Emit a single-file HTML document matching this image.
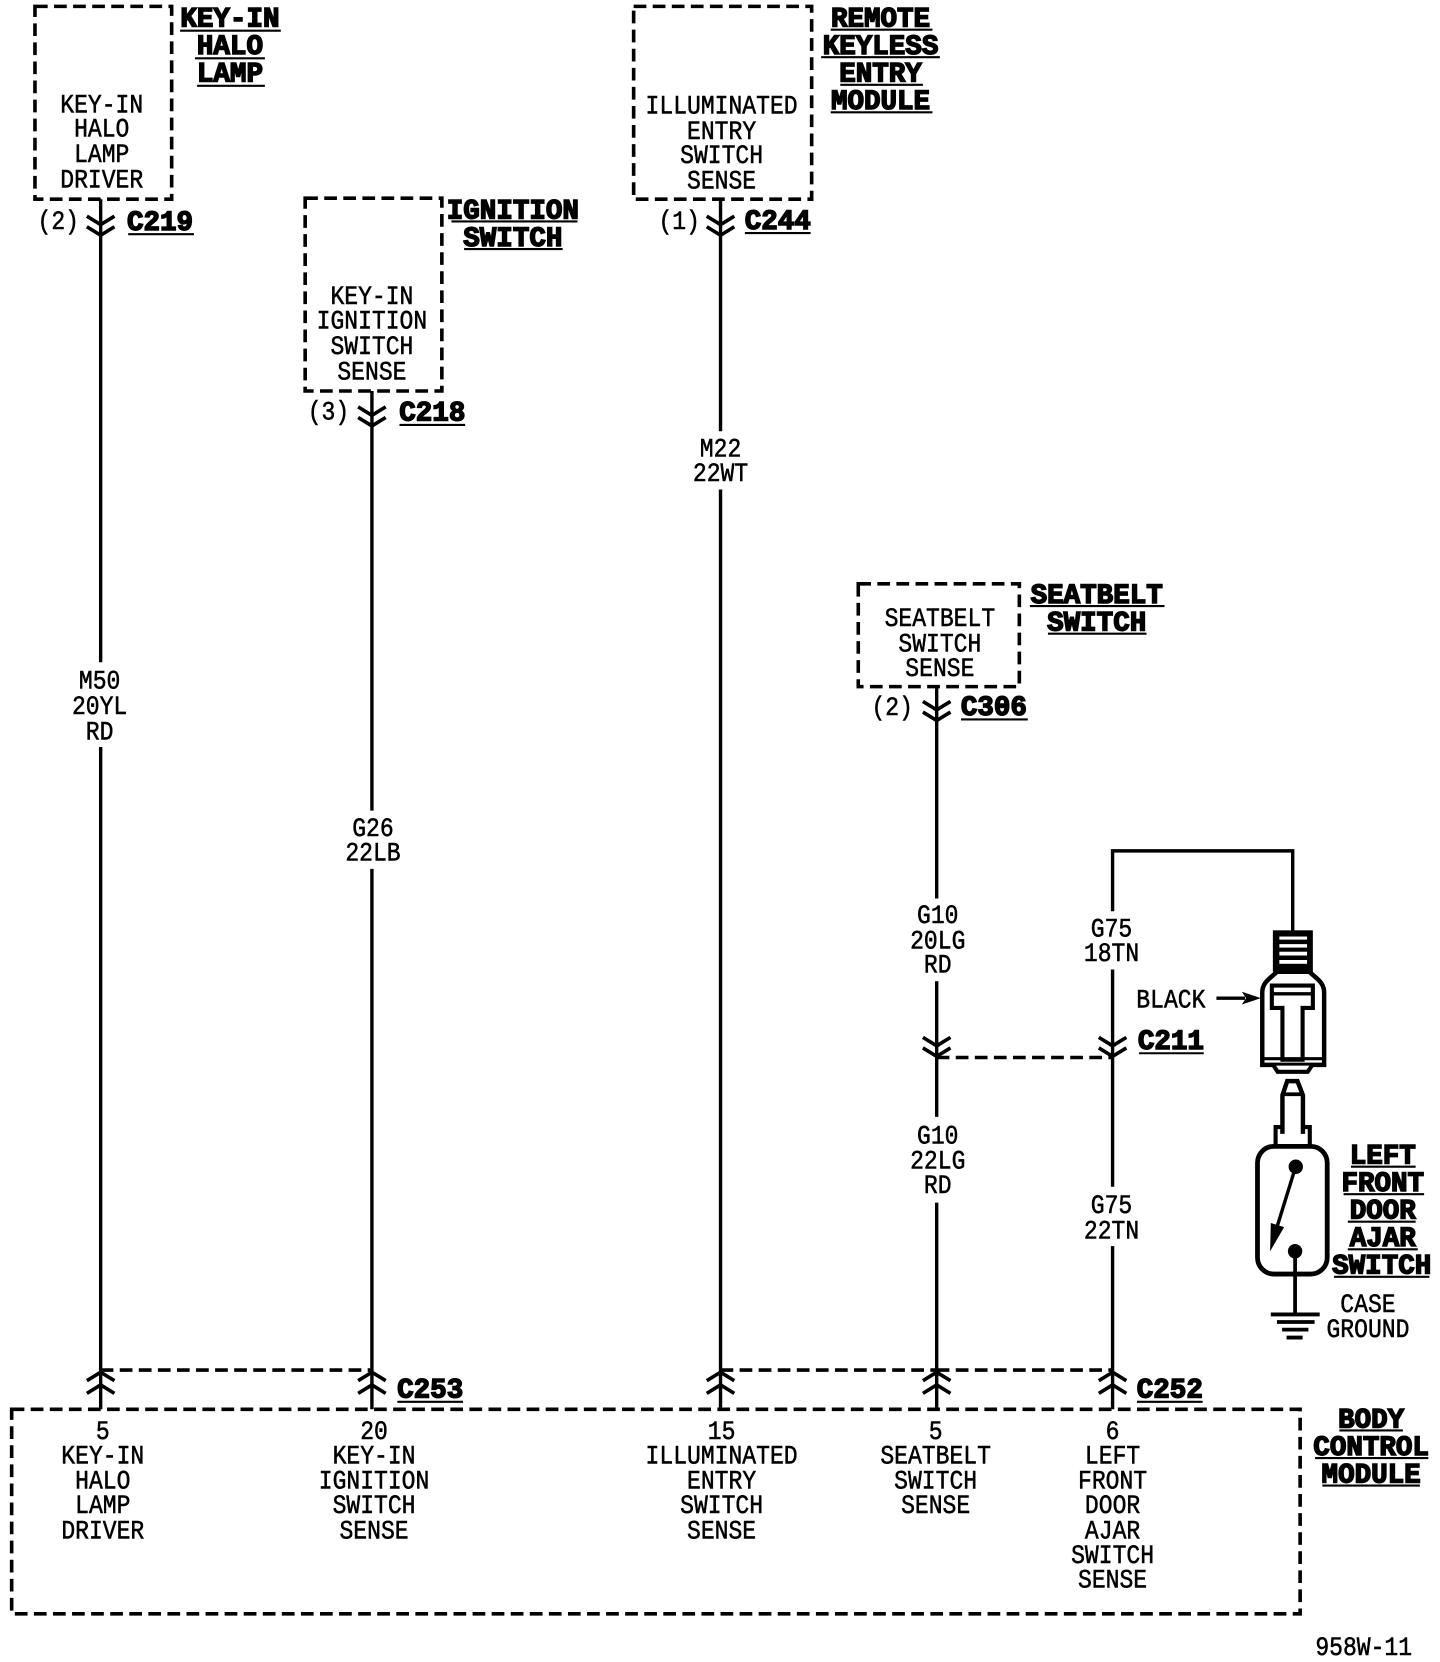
<!DOCTYPE html>
<html><head><meta charset="utf-8"><style>
html,body{margin:0;padding:0;background:#fff}
svg{display:block}
text{font-family:"Liberation Mono",monospace;fill:#000;text-anchor:middle}
.t{font-size:25px;stroke:#000;stroke-width:.5;transform-box:fill-box;transform-origin:center;transform:scaleX(.87)}
.b{font-size:26px;font-weight:bold;stroke:#000;stroke-width:1.4}
.w{fill:none;stroke:#000;stroke-width:3.2}
.d{fill:none;stroke:#000;stroke-width:3.4;stroke-dasharray:12 6}
.u{stroke:#000;stroke-width:2}
.c{fill:none;stroke:#000;stroke-width:3.4}
</style></head><body>
<svg width="1440" height="1662" viewBox="0 0 1359 1568.5" xmlns="http://www.w3.org/2000/svg">
<!-- boxes -->
<rect class="d" x="33" y="6" width="129" height="182"/>
<rect class="d" x="288" y="187" width="129" height="182"/>
<rect class="d" x="598" y="6" width="168" height="182"/>
<rect class="d" x="810" y="551" width="152" height="97"/>
<rect class="d" x="11" y="1330" width="1216" height="193"/>
<!-- wires -->
<path class="w" d="M95 188V625M95 705V1330M351 369V765M351 820V1330M680 188V407M680 462V1330M884 648V848M884 926V1054M884 1135V1330M1050 860V803H1220V880M1050 915V1120M1050 1176V1330"/>
<!-- dashed links -->
<path class="d" d="M95 1293H351M680 1293H884M884 1293H1050M884 998H1050"/>
<!-- top chevrons -->
<path class="c" d="M82 204L95 212L108 204M82 214L95 222L108 214"/>
<path class="c" d="M338 384L351 392L364 384M338 394L351 402L364 394"/>
<path class="c" d="M667 204L680 212L693 204M667 214L680 222L693 214"/>
<path class="c" d="M871 662L884 670L897 662M871 672L884 680L897 672"/>
<path class="c" d="M871 979L884 987L897 979M871 989L884 997L897 989"/>
<path class="c" d="M1037 979L1050 987L1063 979M1037 989L1050 997L1063 989"/>
<!-- bottom chevrons -->
<path class="c" d="M82 1303L95 1295L108 1303M82 1315L95 1307L108 1315"/>
<path class="c" d="M338 1303L351 1295L364 1303M338 1315L351 1307L364 1315"/>
<path class="c" d="M667 1303L680 1295L693 1303M667 1315L680 1307L693 1315"/>
<path class="c" d="M871 1303L884 1295L897 1303M871 1315L884 1307L897 1315"/>
<path class="c" d="M1037 1303L1050 1295L1063 1303M1037 1315L1050 1307L1063 1315"/>
<!-- box text -->
<text class="t" x="96" y="106">KEY-IN</text><text class="t" x="96" y="129">HALO</text><text class="t" x="96" y="153">LAMP</text><text class="t" x="96" y="177">DRIVER</text>
<text class="t" x="351" y="287">KEY-IN</text><text class="t" x="351" y="310">IGNITION</text><text class="t" x="351" y="334">SWITCH</text><text class="t" x="351" y="358">SENSE</text>
<text class="t" x="681" y="107">ILLUMINATED</text><text class="t" x="681" y="131">ENTRY</text><text class="t" x="681" y="154">SWITCH</text><text class="t" x="681" y="178">SENSE</text>
<text class="t" x="887" y="591">SEATBELT</text><text class="t" x="887" y="615">SWITCH</text><text class="t" x="887" y="638">SENSE</text>
<text class="t" x="55" y="216">(2)</text><text class="t" x="310" y="396">(3)</text><text class="t" x="641" y="216">(1)</text><text class="t" x="842" y="675">(2)</text>
<text class="t" x="94" y="650">M50</text><text class="t" x="94" y="674">20YL</text><text class="t" x="94" y="698">RD</text>
<text class="t" x="352" y="789">G26</text><text class="t" x="352" y="812">22LB</text>
<text class="t" x="680" y="431">M22</text><text class="t" x="680" y="454">22WT</text>
<text class="t" x="885" y="871">G10</text><text class="t" x="885" y="895">20LG</text><text class="t" x="885" y="918">RD</text>
<text class="t" x="885" y="1079">G10</text><text class="t" x="885" y="1103">22LG</text><text class="t" x="885" y="1126">RD</text>
<text class="t" x="1049" y="884">G75</text><text class="t" x="1049" y="907">18TN</text>
<text class="t" x="1049" y="1145">G75</text><text class="t" x="1049" y="1169">22TN</text>
<text class="t" x="1105" y="951">BLACK</text>
<text class="t" x="1291" y="1238">CASE</text><text class="t" x="1291" y="1262">GROUND</text>
<text class="t" x="97" y="1358">5</text><text class="t" x="97" y="1381">KEY-IN</text><text class="t" x="97" y="1405">HALO</text><text class="t" x="97" y="1428">LAMP</text><text class="t" x="97" y="1452">DRIVER</text>
<text class="t" x="353" y="1358">20</text><text class="t" x="353" y="1381">KEY-IN</text><text class="t" x="353" y="1405">IGNITION</text><text class="t" x="353" y="1428">SWITCH</text><text class="t" x="353" y="1452">SENSE</text>
<text class="t" x="681" y="1358">15</text><text class="t" x="681" y="1381">ILLUMINATED</text><text class="t" x="681" y="1405">ENTRY</text><text class="t" x="681" y="1428">SWITCH</text><text class="t" x="681" y="1452">SENSE</text>
<text class="t" x="883" y="1358">5</text><text class="t" x="883" y="1381">SEATBELT</text><text class="t" x="883" y="1405">SWITCH</text><text class="t" x="883" y="1428">SENSE</text>
<text class="t" x="1050" y="1358">6</text><text class="t" x="1050" y="1381">LEFT</text><text class="t" x="1050" y="1405">FRONT</text><text class="t" x="1050" y="1428">DOOR</text><text class="t" x="1050" y="1452">AJAR</text><text class="t" x="1050" y="1475">SWITCH</text><text class="t" x="1050" y="1498">SENSE</text>
<text class="t" x="1287" y="1562">958W-11</text>
<!-- bold titles -->
<text class="b" x="217" y="25">KEY-IN</text><text class="b" x="217" y="51">HALO</text><text class="b" x="217" y="77">LAMP</text>
<path class="u" d="M170 29H265M184 55H250M186 81H250"/>
<text class="b" x="484" y="206">IGNITION</text><text class="b" x="484" y="232">SWITCH</text>
<path class="u" d="M426 209H545M438 235H531"/>
<text class="b" x="831" y="25">REMOTE</text><text class="b" x="831" y="51">KEYLESS</text><text class="b" x="831" y="77">ENTRY</text><text class="b" x="831" y="103">MODULE</text>
<path class="u" d="M784 28H880M775 54H887M793 80H871M784 106H880"/>
<text class="b" x="1035" y="569">SEATBELT</text><text class="b" x="1035" y="595">SWITCH</text>
<path class="u" d="M972 572H1099M989 598H1082"/>
<text class="b" x="1305" y="1098">LEFT</text><text class="b" x="1305" y="1124">FRONT</text><text class="b" x="1305" y="1150">DOOR</text><text class="b" x="1305" y="1176">AJAR</text><text class="b" x="1304" y="1202">SWITCH</text>
<path class="u" d="M1275 1101H1336M1268 1127H1344M1272 1153H1336M1272 1179H1338M1259 1205H1349"/>
<text class="b" x="1294" y="1347">BODY</text><text class="b" x="1294" y="1373">CONTROL</text><text class="b" x="1294" y="1399">MODULE</text>
<path class="u" d="M1264 1350H1324M1241 1376H1348M1248 1402H1340"/>
<text class="b" x="151" y="217">C219</text><path class="u" d="M121 221H183"/>
<text class="b" x="408" y="397">C218</text><path class="u" d="M377 401H439"/>
<text class="b" x="734" y="216">C244</text><path class="u" d="M703 220H765"/>
<text class="b" x="938" y="675">C306</text><path class="u" d="M907 679H970"/>
<text class="b" x="1105" y="990">C211</text><path class="u" d="M1075 994H1136"/>
<text class="b" x="406" y="1319">C253</text><path class="u" d="M375 1323H437"/>
<text class="b" x="1104" y="1319">C252</text><path class="u" d="M1073 1323H1135"/>
<!-- black arrow -->
<path class="w" d="M1148 942H1175"/><polygon points="1190,942 1172,936 1176,942 1172,948" fill="#000"/>
<!-- connector and switch -->
<g transform="translate(1014.8,793.3) scale(.3226,.3257)">
<rect x="578" y="260" width="117" height="120" fill="#000"/>
<rect x="597" y="278" width="81" height="9" fill="#fff"/>
<rect x="597" y="300" width="81" height="10" fill="#fff"/>
<rect x="597" y="322" width="81" height="11" fill="#fff"/>
<rect x="597" y="346" width="81" height="11" fill="#fff"/>
<path d="M590 380C570 400 547 410 547 440V650H728V440C728 410 705 400 685 380Z" fill="#fff" stroke="#000" stroke-width="13"/>
<path d="M575 420H695V485H665V635H606V485H575Z" fill="#fff" stroke="#000" stroke-width="12"/>
<path d="M575 444H695" stroke="#000" stroke-width="10"/>
<path d="M552 632H722" stroke="#000" stroke-width="9"/>
<path d="M580 652L592 670H680L692 652" fill="#fff" stroke="#000" stroke-width="12"/>
<path d="M606 850V738L620 697H650L666 738V850" fill="#fff" stroke="#000" stroke-width="13"/>
<path d="M612 735H662" stroke="#000" stroke-width="11"/>
<path d="M586 885V830H606M686 885V830H666" fill="none" stroke="#000" stroke-width="12"/>
<rect x="533" y="886" width="204" height="370" rx="48" fill="#fff" stroke="#000" stroke-width="14"/>
<circle cx="645" cy="945" r="21" fill="#000"/>
<circle cx="643" cy="1190" r="21" fill="#000"/>
<path d="M640 960L590 1120" stroke="#000" stroke-width="10"/>
<polygon points="570,1190 572,1108 611,1120" fill="#000"/>
<path d="M643 1190V1373" stroke="#000" stroke-width="11"/>
<path d="M572 1373H715M590 1395H700M605 1417H682M618 1440H665" stroke="#000" stroke-width="11"/>
</g>
</svg>
</body></html>
